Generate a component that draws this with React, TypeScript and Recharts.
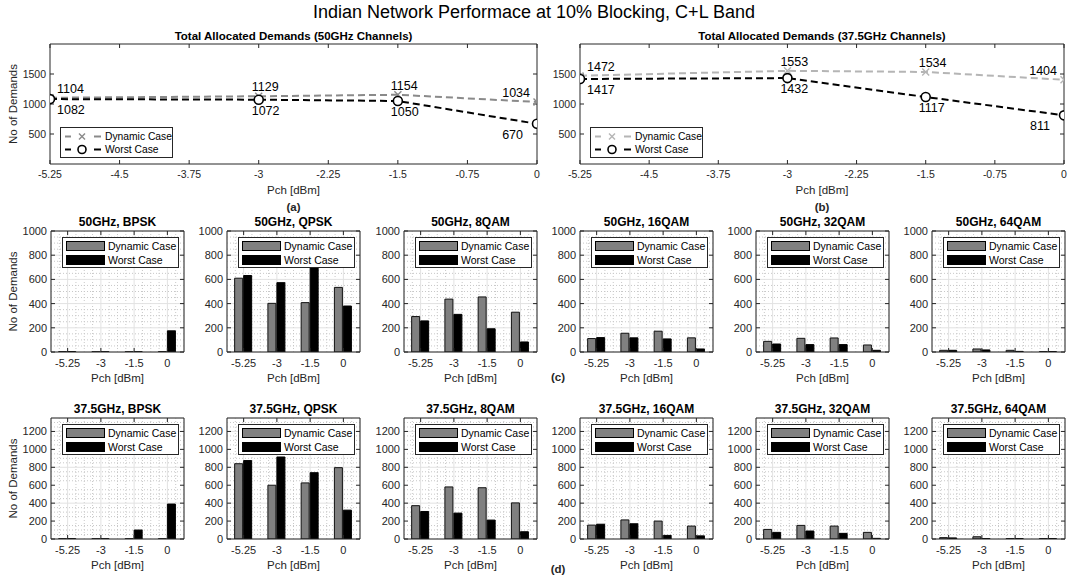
import React from "react";
import { LineChart, Line, BarChart, Bar, XAxis, YAxis, CartesianGrid, Legend, LabelList } from "recharts";

const FONT = '"Liberation Sans", Arial, Helvetica, sans-serif';
const AXIS = "#262626";

// launch powers
const pch = [-5.25, -3, -1.5, 0];
const pchTicks = [-5.25, -4.5, -3.75, -3, -2.25, -1.5, -0.75, 0];
const pchLabels = ["-5.25", "-3", "-1.5", "0"];

// total allocated demands
const dynamic50 = [1104, 1129, 1154, 1034];
const worst50 = [1082, 1072, 1050, 670];
const dynamic375 = [1472, 1553, 1534, 1404];
const worst375 = [1417, 1432, 1117, 811];

// per modulation format, 50GHz channels
const dyn50Bpsk = [3, 2, 2, 3];
const wst50Bpsk = [3, 2, 2, 175];
const dyn50Qpsk = [610, 402, 408, 534];
const wst50Qpsk = [632, 573, 700, 380];
const dyn508qam = [293, 437, 455, 329];
const wst508qam = [257, 311, 192, 83];
const dyn5016qam = [111, 155, 172, 117];
const wst5016qam = [119, 117, 108, 25];
const dyn5032qam = [88, 113, 116, 58];
const wst5032qam = [66, 61, 61, 14];
const dyn5064qam = [14, 25, 14, 3];
const wst5064qam = [14, 17, 5, 3];

// per modulation format, 37.5GHz channels
const dyn375Bpsk = [4, 3, 3, 3];
const wst375Bpsk = [4, 3, 100, 390];
const dyn375Qpsk = [840, 600, 626, 796];
const wst375Qpsk = [875, 915, 740, 322];
const dyn3758qam = [372, 581, 572, 403];
const wst3758qam = [307, 289, 211, 81];
const dyn37516qam = [155, 213, 200, 144];
const wst37516qam = [165, 170, 40, 35];
const dyn37532qam = [107, 152, 144, 74];
const wst37532qam = [74, 89, 63, 7];
const dyn37564qam = [15, 25, 5, 5];
const wst37564qam = [12, 5, 5, 5];

const yTicks50 = [0, 200, 400, 600, 800, 1000];
const yTicks375 = [0, 200, 400, 600, 800, 1000, 1200];

const row50 = [
  { title: "50GHz, BPSK", dyn: dyn50Bpsk, worst: wst50Bpsk },
  { title: "50GHz, QPSK", dyn: dyn50Qpsk, worst: wst50Qpsk },
  { title: "50GHz, 8QAM", dyn: dyn508qam, worst: wst508qam },
  { title: "50GHz, 16QAM", dyn: dyn5016qam, worst: wst5016qam },
  { title: "50GHz, 32QAM", dyn: dyn5032qam, worst: wst5032qam },
  { title: "50GHz, 64QAM", dyn: dyn5064qam, worst: wst5064qam },
];
const row375 = [
  { title: "37.5GHz, BPSK", dyn: dyn375Bpsk, worst: wst375Bpsk },
  { title: "37.5GHz, QPSK", dyn: dyn375Qpsk, worst: wst375Qpsk },
  { title: "37.5GHz, 8QAM", dyn: dyn3758qam, worst: wst3758qam },
  { title: "37.5GHz, 16QAM", dyn: dyn37516qam, worst: wst37516qam },
  { title: "37.5GHz, 32QAM", dyn: dyn37532qam, worst: wst37532qam },
  { title: "37.5GHz, 64QAM", dyn: dyn37564qam, worst: wst37564qam },
];

const colLefts = [51, 227, 404, 580, 756, 932];
const PLOT_W = 133;
const PLOT_H = 121;

const tickStyle = (size: number) => ({ fill: AXIS, fontSize: size, fontFamily: FONT });

function WorstDot(props: any) {
  const { cx, cy, index } = props;
  return <circle key={`o-${index}`} cx={cx} cy={cy} r={4.5} fill="#fff" stroke="#000" strokeWidth={1.6} />;
}

function makeCross(color: string) {
  return (props: any) => {
    const { cx, cy, index } = props;
    const s = 3.5;
    return (
      <g key={`x-${index}`}>
        <line x1={cx - s} y1={cy - s} x2={cx + s} y2={cy + s} stroke={color} strokeWidth={1.4} />
        <line x1={cx - s} y1={cy + s} x2={cx + s} y2={cy - s} stroke={color} strokeWidth={1.4} />
      </g>
    );
  };
}

function makeValueLabel(side: "above" | "below") {
  return (props: any) => {
    const { x, y, value, index } = props;
    const last = index === pch.length - 1;
    const dx = index === 0 ? 7 : last ? (side === "above" ? -7 : -14) : -7;
    const dy = side === "above" ? -9 : 11;
    return (
      <text
        key={`l-${side}-${index}`}
        x={x + dx}
        y={y + dy}
        textAnchor={last ? "end" : "start"}
        dominantBaseline="central"
        fontSize={12.5}
        fontFamily={FONT}
        fill="#000"
      >
        {value}
      </text>
    );
  };
}

function TotalLegend({ dynColor }: { dynColor: string }) {
  const items = [
    { label: "Dynamic Case", color: dynColor, mark: "x" },
    { label: "Worst Case", color: "#000", mark: "o" },
  ];
  return (
    <div
      style={{
        width: 113,
        height: 31,
        border: `1px solid ${AXIS}`,
        background: "#fff",
        boxSizing: "border-box",
        position: "relative",
        fontFamily: FONT,
        fontSize: 10.3,
        color: "#000",
      }}
    >
      {items.map((it, i) => (
        <div key={it.label} style={{ position: "absolute", left: 0, top: 2 + i * 13.3, height: 13, width: 111 }}>
          <svg width={44} height={13} style={{ position: "absolute", left: 0, top: 0 }}>
            <line x1={4} x2={10} y1={6.5} y2={6.5} stroke={it.color} strokeWidth={2} />
            <line x1={33} x2={40} y1={6.5} y2={6.5} stroke={it.color} strokeWidth={2} />
            {it.mark === "o" ? (
              <circle cx={21} cy={6.5} r={4} fill="#fff" stroke="#000" strokeWidth={1.6} />
            ) : (
              <g>
                <line x1={18} y1={3.5} x2={24} y2={9.5} stroke={it.color} strokeWidth={1.4} />
                <line x1={18} y1={9.5} x2={24} y2={3.5} stroke={it.color} strokeWidth={1.4} />
              </g>
            )}
          </svg>
          <span style={{ position: "absolute", left: 44, top: 0, lineHeight: "13px", whiteSpace: "nowrap" }}>{it.label}</span>
        </div>
      ))}
    </div>
  );
}

function BarLegend() {
  const items = [
    { label: "Dynamic Case", fill: "#808080" },
    { label: "Worst Case", fill: "#000" },
  ];
  return (
    <div
      style={{
        width: 117,
        height: 31,
        border: `1px solid ${AXIS}`,
        background: "#fff",
        boxSizing: "border-box",
        position: "relative",
        fontFamily: FONT,
        fontSize: 10.5,
        color: "#000",
      }}
    >
      {items.map((it, i) => (
        <div key={it.label} style={{ position: "absolute", left: 0, top: 1 + i * 13.8, height: 14, width: 115 }}>
          <div
            style={{
              position: "absolute",
              left: 3,
              top: 2,
              width: 39,
              height: 10,
              background: it.fill,
              border: "1px solid #000",
              boxSizing: "border-box",
            }}
          />
          <span style={{ position: "absolute", left: 45, top: 0, lineHeight: "14px", whiteSpace: "nowrap" }}>{it.label}</span>
        </div>
      ))}
    </div>
  );
}

function TotalChart(props: {
  title: string;
  dyn: number[];
  worst: number[];
  dynColor: string;
  plotLeft: number;
  plotRight: number;
  yLabel: boolean;
  panel: string;
}) {
  const { title, dyn, worst, dynColor, plotLeft, plotRight, yLabel, panel } = props;
  const data = pch.map((p, i) => ({ pch: p, dyn: dyn[i], worst: worst[i] }));
  const yw = 50;
  const left = plotLeft - yw;
  const top = 28;
  const plotW = plotRight - plotLeft;
  const center = plotLeft + plotW / 2;
  return (
    <>
      <div
        style={{
          position: "absolute",
          left: center - 200,
          width: 400,
          top: 29,
          textAlign: "center",
          fontWeight: "bold",
          fontSize: 11.5,
          lineHeight: "14px",
          fontFamily: FONT,
          color: "#000",
        }}
      >
        {title}
      </div>
      <div style={{ position: "absolute", left, top }}>
        <LineChart width={yw + plotW + 4} height={172} data={data} margin={{ top: 15, right: 3, bottom: 0, left: 0 }}>
          <XAxis
            dataKey="pch"
            type="number"
            domain={[-5.25, 0]}
            ticks={pchTicks}
            allowDataOverflow
            height={36}
            stroke={AXIS}
            tickSize={-4}
            tickMargin={11}
            tick={tickStyle(10.5)}
            label={{ value: "Pch [dBm]", position: "insideBottom", offset: 6, fill: AXIS, fontSize: 11.5, fontFamily: FONT }}
          />
          <XAxis
            xAxisId="t"
            orientation="top"
            dataKey="pch"
            type="number"
            domain={[-5.25, 0]}
            ticks={pchTicks}
            allowDataOverflow
            height={1}
            stroke={AXIS}
            tickSize={-4}
            tickFormatter={() => ""}
          />
          <YAxis
            domain={[0, 2000]}
            ticks={[500, 1000, 1500]}
            allowDataOverflow
            width={yw}
            stroke={AXIS}
            tickSize={-4}
            tickMargin={8}
            tick={tickStyle(10.5)}
            label={
              yLabel
                ? { value: "No of Demands", angle: -90, position: "insideLeft", offset: 13, fill: AXIS, fontSize: 11.5, fontFamily: FONT, style: { textAnchor: "middle" } }
                : undefined
            }
          />
          <YAxis
            yAxisId="r"
            orientation="right"
            domain={[0, 2000]}
            ticks={[500, 1000, 1500]}
            allowDataOverflow
            width={1}
            stroke={AXIS}
            tickSize={-4}
            tickFormatter={() => ""}
          />
          <Legend
            layout="vertical"
            align="center"
            verticalAlign="middle"
            wrapperStyle={{ left: yw + 10, top: 99, width: 113 }}
            content={() => <TotalLegend dynColor={dynColor} />}
          />
          <Line
            dataKey="dyn"
            type="linear"
            stroke={dynColor}
            strokeWidth={2}
            strokeDasharray="7 4"
            dot={makeCross(dynColor)}
            activeDot={false}
            isAnimationActive={false}
          >
            <LabelList dataKey="dyn" content={makeValueLabel("above")} />
          </Line>
          <Line
            dataKey="worst"
            type="linear"
            stroke="#000"
            strokeWidth={2}
            strokeDasharray="7 4"
            dot={WorstDot}
            activeDot={false}
            isAnimationActive={false}
          >
            <LabelList dataKey="worst" content={makeValueLabel("below")} />
          </Line>
        </LineChart>
      </div>
      <div
        style={{
          position: "absolute",
          left: center - 20,
          width: 40,
          top: 200,
          textAlign: "center",
          fontWeight: "bold",
          fontSize: 11.5,
          lineHeight: "14px",
          fontFamily: FONT,
          color: AXIS,
        }}
      >
        {panel}
      </div>
    </>
  );
}

function ModChart(props: {
  title: string;
  dyn: number[];
  worst: number[];
  plotLeft: number;
  plotTop: number;
  yMax: number;
  yTicks: number[];
  yLabel: boolean;
}) {
  const { title, dyn, worst, plotLeft, plotTop, yMax, yTicks, yLabel } = props;
  const data = pchLabels.map((p, i) => ({ pch: p, dyn: dyn[i], worst: worst[i] }));
  const yw = yLabel ? plotLeft : 40;
  const left = plotLeft - yw;
  const top = plotTop - 10;

  const minorH = ({ offset }: any) => {
    const out: number[] = [];
    for (let v = 50; v < yMax; v += 50) {
      if (v % 200 !== 0) out.push(offset.top + offset.height * (1 - v / yMax));
    }
    return out;
  };
  const minorV = ({ offset }: any) => {
    const out: number[] = [];
    for (let k = 1; k < 16; k++) {
      if (k % 4 !== 2) out.push(offset.left + (offset.width * k) / 16);
    }
    return out;
  };

  return (
    <>
      <div
        style={{
          position: "absolute",
          left: plotLeft - 30,
          width: PLOT_W + 60,
          top: plotTop - 16,
          textAlign: "center",
          fontWeight: "bold",
          fontSize: 12,
          lineHeight: "14px",
          fontFamily: FONT,
          color: "#000",
        }}
      >
        {title}
      </div>
      <div style={{ position: "absolute", left, top }}>
        <BarChart
          width={yw + PLOT_W + 7}
          height={10 + PLOT_H + 36}
          data={data}
          margin={{ top: 9, right: 6, bottom: 0, left: 0 }}
          barCategoryGap="23%"
          barGap={1}
        >
          <CartesianGrid stroke="#c8c8c8" strokeDasharray="1 2" horizontalCoordinatesGenerator={minorH} verticalCoordinatesGenerator={minorV} />
          <CartesianGrid stroke="#e2e2e2" />
          <Legend
            layout="vertical"
            align="center"
            verticalAlign="middle"
            wrapperStyle={{ left: yw + 11, top: 16, width: 117 }}
            content={() => <BarLegend />}
          />
          <Bar dataKey="dyn" fill="#808080" stroke="#111" strokeWidth={1} isAnimationActive={false} />
          <Bar dataKey="worst" fill="#000" stroke="#000" strokeWidth={1} isAnimationActive={false} />
          <XAxis
            dataKey="pch"
            height={36}
            stroke={AXIS}
            tickSize={-4}
            tickMargin={11}
            tick={tickStyle(11)}
            label={{ value: "Pch [dBm]", position: "insideBottom", offset: 6, fill: AXIS, fontSize: 11.5, fontFamily: FONT }}
          />
          <XAxis xAxisId="t" orientation="top" dataKey="pch" height={1} stroke={AXIS} tickSize={-4} tickFormatter={() => ""} />
          <YAxis
            domain={[0, yMax]}
            ticks={yTicks}
            allowDataOverflow
            width={yw}
            stroke={AXIS}
            tickSize={-4}
            tickMargin={8}
            tick={tickStyle(11)}
            label={
              yLabel
                ? { value: "No of Demands", angle: -90, position: "insideLeft", offset: 13, fill: AXIS, fontSize: 11.5, fontFamily: FONT, style: { textAnchor: "middle" } }
                : undefined
            }
          />
          <YAxis
            yAxisId="r"
            orientation="right"
            domain={[0, yMax]}
            ticks={yTicks}
            allowDataOverflow
            width={1}
            stroke={AXIS}
            tickSize={-4}
            tickFormatter={() => ""}
          />
        </BarChart>
      </div>
    </>
  );
}

const panelStyle = (x: number, y: number): React.CSSProperties => ({
  position: "absolute",
  left: x - 20,
  width: 40,
  top: y - 7,
  textAlign: "center",
  fontWeight: "bold",
  fontSize: 11.5,
  lineHeight: "14px",
  fontFamily: FONT,
  color: AXIS,
});

export default function App() {
  return (
    <div
      style={{
        position: "absolute",
        left: 0,
        top: 0,
        width: 1068,
        height: 576,
        background: "#fff",
        overflow: "hidden",
        fontFamily: FONT,
      }}
    >
      <div
        style={{
          position: "absolute",
          left: 0,
          width: 1068,
          top: 2,
          textAlign: "center",
          fontSize: 18,
          lineHeight: "20px",
          color: "#000",
        }}
      >
        Indian Network Performace at 10% Blocking, C+L Band
      </div>

      <TotalChart
        title="Total Allocated Demands (50GHz Channels)"
        dyn={dynamic50}
        worst={worst50}
        dynColor="#8a8a8a"
        plotLeft={50}
        plotRight={537}
        yLabel
        panel="(a)"
      />
      <TotalChart
        title="Total Allocated Demands (37.5GHz Channels)"
        dyn={dynamic375}
        worst={worst375}
        dynColor="#b5b5b5"
        plotLeft={580}
        plotRight={1064}
        yLabel={false}
        panel="(b)"
      />

      {row50.map((c, i) => (
        <ModChart
          key={c.title}
          title={c.title}
          dyn={c.dyn}
          worst={c.worst}
          plotLeft={colLefts[i]}
          plotTop={231}
          yMax={1000}
          yTicks={yTicks50}
          yLabel={i === 0}
        />
      ))}
      {row375.map((c, i) => (
        <ModChart
          key={c.title}
          title={c.title}
          dyn={c.dyn}
          worst={c.worst}
          plotLeft={colLefts[i]}
          plotTop={418}
          yMax={1350}
          yTicks={yTicks375}
          yLabel={i === 0}
        />
      ))}

      <div style={panelStyle(558, 377)}>(c)</div>
      <div style={panelStyle(558, 569)}>(d)</div>
    </div>
  );
}
